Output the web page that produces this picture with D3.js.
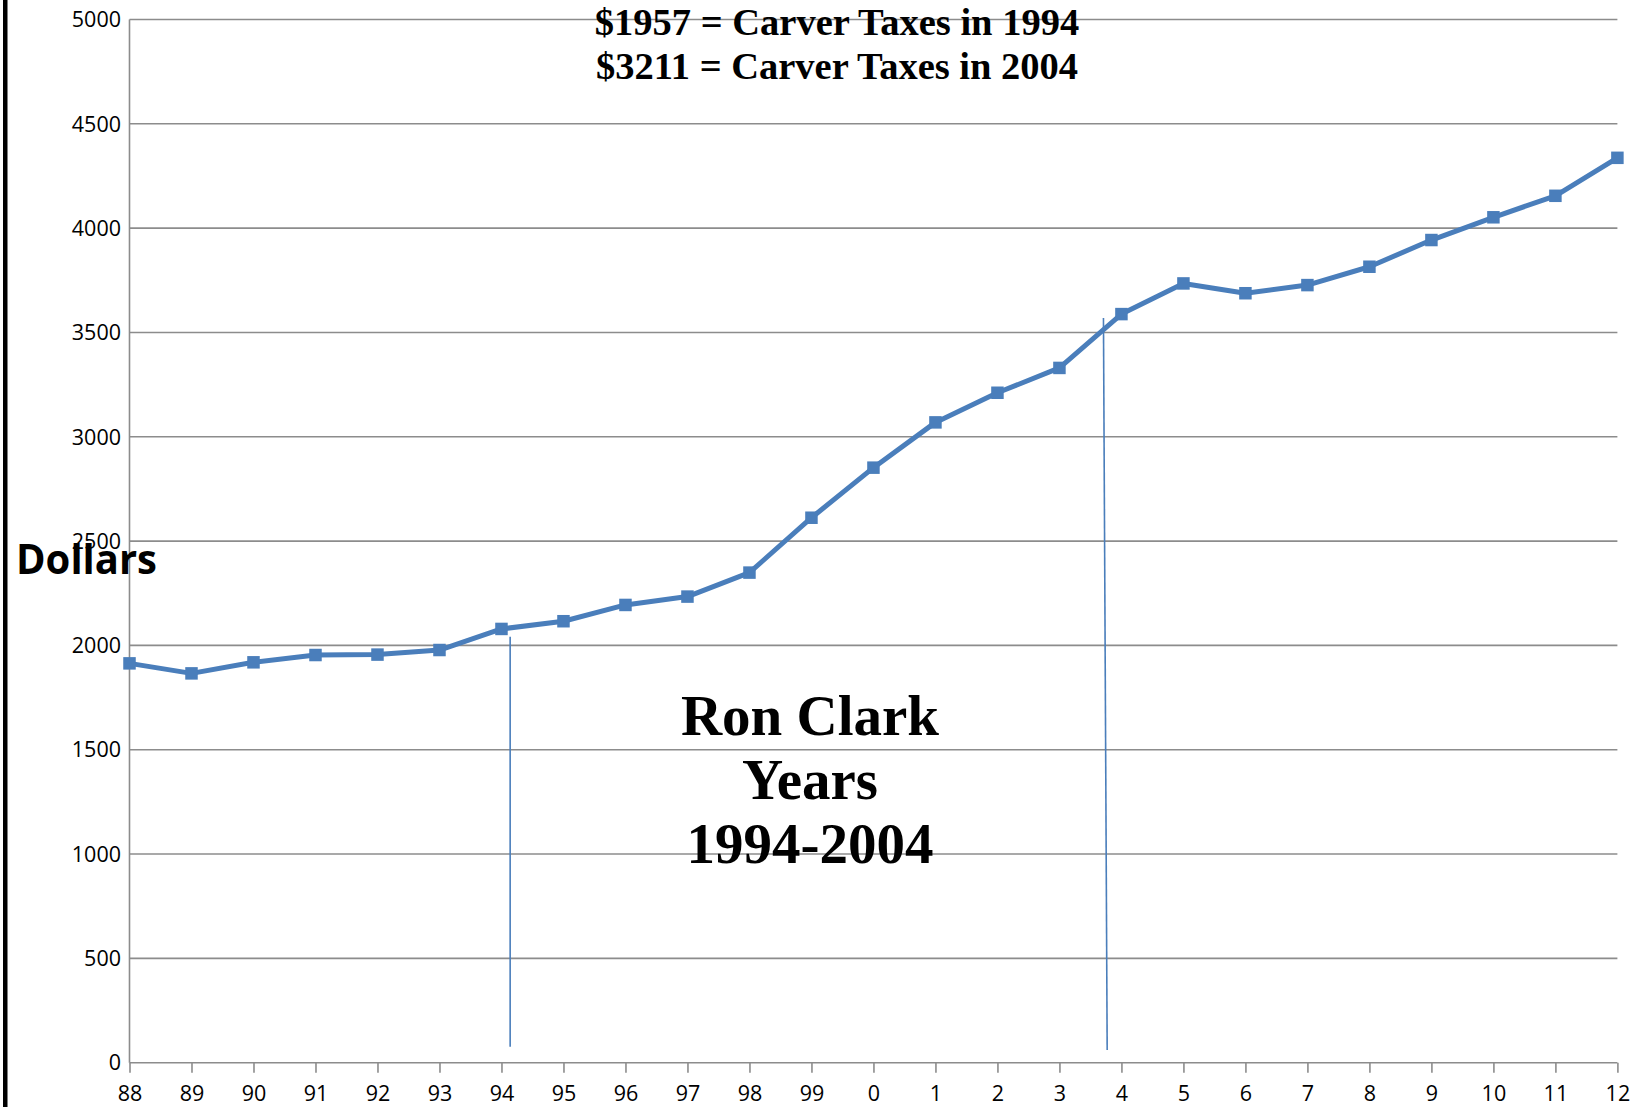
<!DOCTYPE html>
<html>
<head>
<meta charset="utf-8">
<script src="https://cdn.jsdelivr.net/npm/d3@7"></script>
<style>
  html, body { margin: 0; padding: 0; background: #ffffff; }
  svg { display: block; }
</style>
</head>
<body>
<svg id="chart" width="1639" height="1107"></svg>
<script>
// ---- data ----
const years = ["88","89","90","91","92","93","94","95","96","97","98","99","0","1","2","3","4","5","6","7","8","9","10","11","12"];
const taxes = [1914,1866,1919,1954,1956,1978,2079,2116,2194,2234,2349,2612,2852,3069,3211,3330,3588,3735,3688,3727,3815,3943,4052,4155,4337];
const yTicks = [0,500,1000,1500,2000,2500,3000,3500,4000,4500,5000];
const titleLines = ["$1957 = Carver Taxes in 1994", "$3211 = Carver Taxes in 2004"];
const noteLines = ["Ron Clark", "Years", "1994-2004"];
const yLabel = "Dollars";
// term boundary markers: x position in year-index units, top value, bottom value
const termStart = {x0: 6.14, top: 2042, x1: 6.14, bottom: 77};
const termEnd   = {x0: 15.71, top: 3569, x1: 15.77, bottom: 61};

(function () {
// ---- layout ----
const svg = d3.select("#chart");
const pL = 129.5, pR = 1617.4, pT = 19.5, pB = 1062.7;
const blue = "#4a7ebb";
const grid = "#8c8c8c";
const tickFont = "'Open Sans', 'Liberation Sans', Arial, sans-serif";

const x = d3.scalePoint().domain(years).range([pL, pR]);
const xi = d3.scaleLinear().domain([0, years.length - 1]).range([pL, pR]);
const y = d3.scaleLinear().domain([0, 5000]).range([pB, pT]);

// left black bar
svg.append("rect").attr("x", 3).attr("y", 0).attr("width", 4.5).attr("height", 1107).attr("fill", "#000");

// gridlines
svg.append("g").selectAll("line").data(yTicks).join("line")
  .attr("x1", pL).attr("x2", pR)
  .attr("y1", d => y(d)).attr("y2", d => y(d))
  .attr("stroke", grid).attr("stroke-width", 1.6);

// y axis line
svg.append("line").attr("x1", pL).attr("x2", pL).attr("y1", pT).attr("y2", pB)
  .attr("stroke", grid).attr("stroke-width", 1.6);

// y tick labels
svg.append("g").selectAll("text").data(yTicks).join("text")
  .attr("x", 121).attr("y", d => y(d))
  .attr("dy", "0.36em")
  .attr("text-anchor", "end")
  .attr("font-family", tickFont)
  .attr("font-size", 21.5)
  .attr("fill", "#000")
  .text(d => d);

// x axis via d3
const xAxis = d3.axisBottom(x).tickSize(10).tickPadding(13);
const gx = svg.append("g").attr("transform", `translate(0,${pB})`).call(xAxis);
gx.select(".domain").remove();
gx.selectAll(".tick line").attr("stroke", grid).attr("stroke-width", 1.6);
gx.selectAll(".tick text")
  .attr("font-family", tickFont)
  .attr("font-size", 21.5)
  .attr("fill", "#000");

// term marker lines
[termStart, termEnd].forEach(m => {
  svg.append("line")
    .attr("x1", xi(m.x0)).attr("y1", y(m.top))
    .attr("x2", xi(m.x1)).attr("y2", y(m.bottom))
    .attr("stroke", blue).attr("stroke-width", 1.6);
});

// data line
const pts = years.map((yr, i) => ({yr, v: taxes[i]}));
svg.append("path").datum(pts)
  .attr("fill", "none").attr("stroke", blue).attr("stroke-width", 5)
  .attr("stroke-linejoin", "round")
  .attr("d", d3.line().x(d => x(d.yr)).y(d => y(d.v)));

const ms = 12.5;
svg.append("g").selectAll("rect").data(pts).join("rect")
  .attr("x", d => x(d.yr) - ms / 2).attr("y", d => y(d.v) - ms / 2)
  .attr("width", ms).attr("height", ms)
  .attr("fill", blue);

// title
svg.append("g").selectAll("text").data(titleLines).join("text")
  .attr("x", 837).attr("y", (d, i) => 35 + i * 44)
  .attr("text-anchor", "middle")
  .attr("font-family", "'Liberation Serif', 'Times New Roman', serif")
  .attr("font-weight", "bold").attr("font-size", 38.5)
  .attr("fill", "#000")
  .text(d => d);

// center note
svg.append("g").selectAll("text").data(noteLines).join("text")
  .attr("x", 810).attr("y", (d, i) => 735 + i * 64)
  .attr("text-anchor", "middle")
  .attr("font-family", "'Liberation Serif', 'Times New Roman', serif")
  .attr("font-weight", "bold").attr("font-size", 57)
  .attr("fill", "#000")
  .text(d => d);

// y label
svg.append("text")
  .attr("x", 16).attr("y", 574)
  .attr("font-family", tickFont)
  .attr("font-weight", "bold").attr("font-size", 42)
  .attr("textLength", 141).attr("lengthAdjust", "spacingAndGlyphs")
  .attr("fill", "#000")
  .text(yLabel);
})();
</script>
</body>
</html>
